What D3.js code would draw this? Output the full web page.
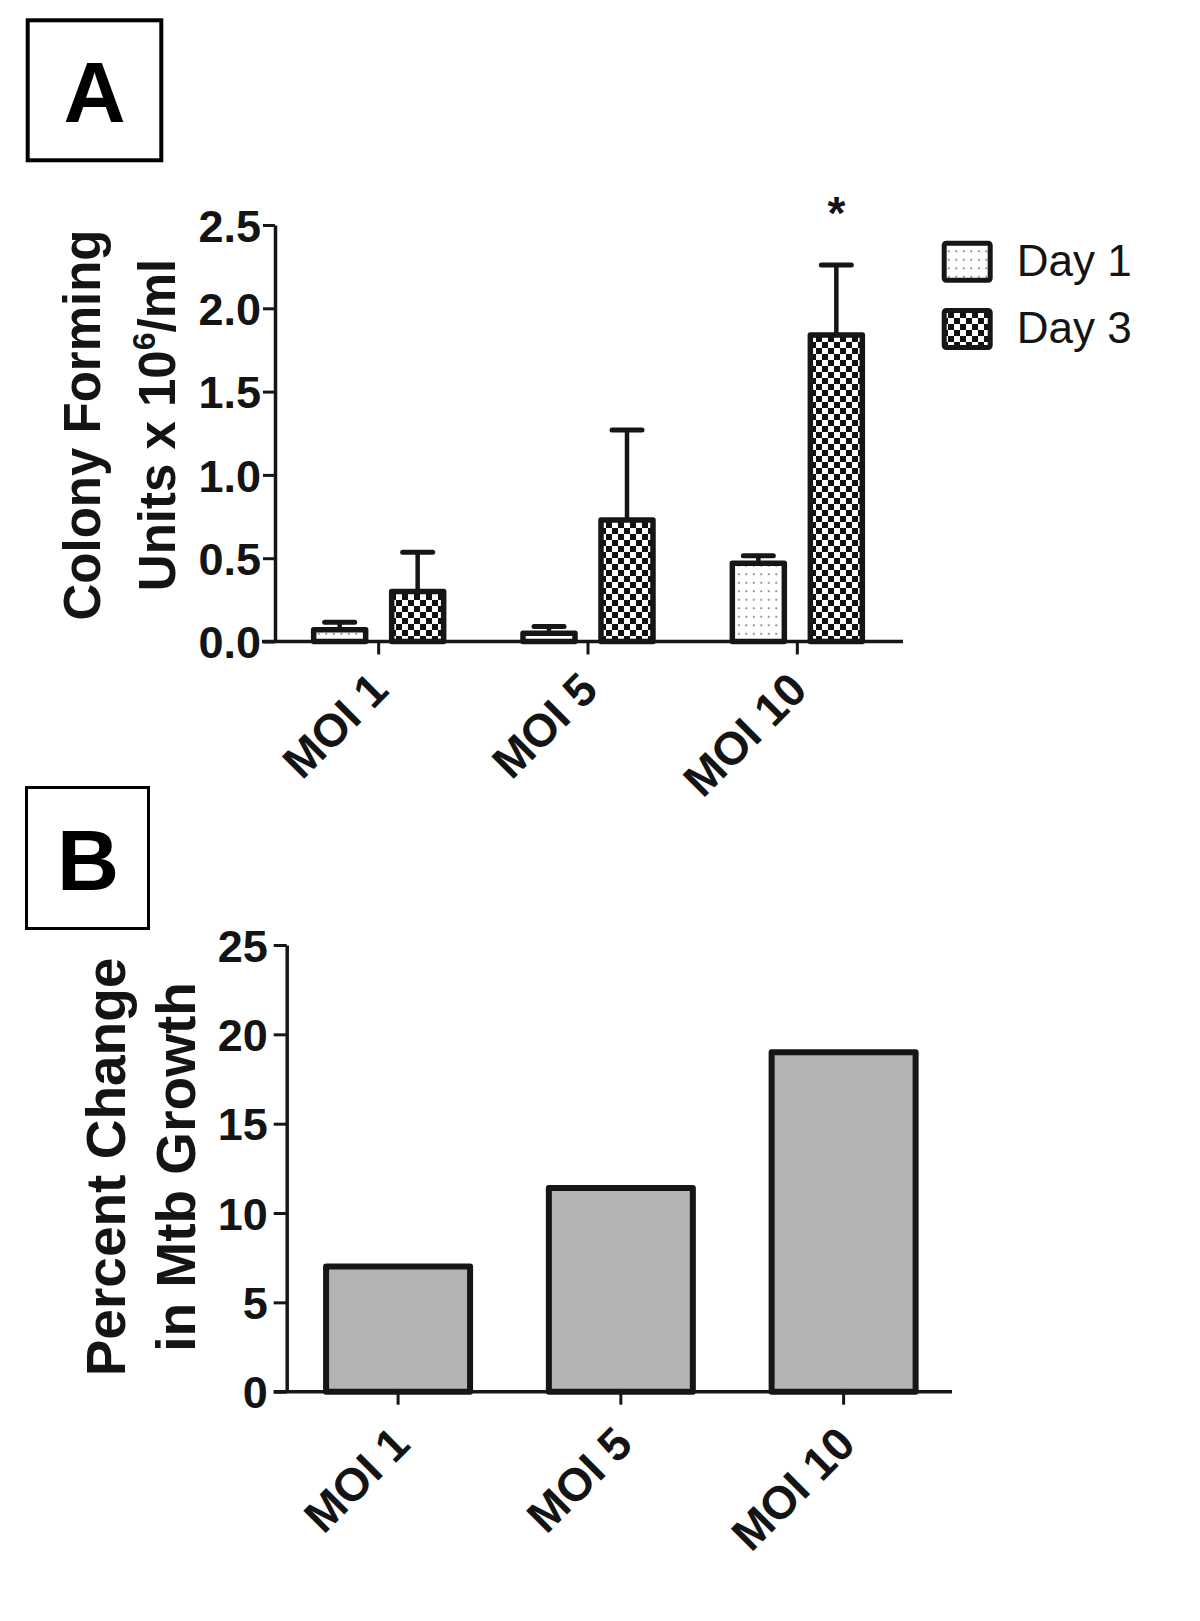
<!DOCTYPE html>
<html>
<head>
<meta charset="utf-8">
<script src="https://cdn.jsdelivr.net/npm/d3@7"></script>
<style>
  html, body { margin: 0; padding: 0; background: #fff; }
  svg { display: block; }
  text { font-family: "Liberation Sans", Arial, Helvetica, sans-serif; fill: #141414; }
</style>
</head>
<body>
<svg id="chart" width="1200" height="1621"></svg>
<script>
// ---------- data ----------
const categories = ["MOI 1", "MOI 5", "MOI 10"];
const seriesNames = ["Day 1", "Day 3"];
const day1Values = [0.07, 0.05, 0.47];
const day1Errors = [0.045, 0.04, 0.045];
const day3Values = [0.30, 0.73, 1.84];
const day3Errors = [0.235, 0.54, 0.42];
const yTicksA = [0, 0.5, 1.0, 1.5, 2.0, 2.5];
const percentChange = [7.0, 11.4, 19.0];
const yTicksB = [0, 5, 10, 15, 20, 25];
const significance = ["", "", "*"]; // above Day 3 bars

const svg = d3.select("#chart");
svg.append("rect").attr("width", 1200).attr("height", 1621).attr("fill", "#fff");

// ---------- patterns ----------
const defs = svg.append("defs");
const dots = defs.append("pattern").attr("id", "dots")
  .attr("patternUnits", "userSpaceOnUse").attr("width", 7.5).attr("height", 8.5);
dots.append("rect").attr("width", 7.5).attr("height", 8.5).attr("fill", "#fff");
dots.append("rect").attr("x", 3).attr("y", 4).attr("width", 1.6).attr("height", 1.6).attr("fill", "#666");

const checker = defs.append("pattern").attr("id", "checker")
  .attr("patternUnits", "userSpaceOnUse").attr("width", 12).attr("height", 12);
checker.append("rect").attr("width", 12).attr("height", 12).attr("fill", "#fff");
checker.append("rect").attr("x", 0).attr("y", 0).attr("width", 6).attr("height", 6).attr("fill", "#111");
checker.append("rect").attr("x", 6).attr("y", 6).attr("width", 6).attr("height", 6).attr("fill", "#111");

const fills = {"Day 1": "url(#dots)", "Day 3": "url(#checker)"};
const ink = "#161616";

// ---------- panel labels ----------
function panelLabel(x, y, w, h, sw, letter, tx, ty) {
  svg.append("rect").attr("x", x).attr("y", y).attr("width", w).attr("height", h)
    .attr("fill", "none").attr("stroke", "#000").attr("stroke-width", sw);
  svg.append("text").attr("x", tx).attr("y", ty).attr("text-anchor", "middle")
    .attr("font-size", 86).attr("font-weight", "bold").style("fill", "#000").text(letter);
}
panelLabel(27.7, 20.3, 133.6, 140, 4, "A", 94.5, 121.7);
panelLabel(26.5, 787.5, 122, 141, 3, "B", 88, 890);

// ================= PANEL A =================
const yA = d3.scaleLinear().domain([0, 2.5]).range([641.5, 225]);
const xA = d3.scaleBand().domain(categories).range([274, 902]);
const xSub = d3.scaleBand().domain(seriesNames).range([-78, 78]);
const barWA = 52;

const gA = svg.append("g");

const dataA = [];
categories.forEach((c, i) => {
  dataA.push({cat: c, s: "Day 1", v: day1Values[i], e: day1Errors[i], sig: ""});
  dataA.push({cat: c, s: "Day 3", v: day3Values[i], e: day3Errors[i], sig: significance[i]});
});
const cx = d => xA(d.cat) + xA.bandwidth() / 2 + xSub(d.s) + xSub.bandwidth() / 2;

// error bars (upper only) drawn under bars
gA.selectAll("line.stem").data(dataA).join("line")
  .attr("x1", cx).attr("x2", cx)
  .attr("y1", d => yA(d.v)).attr("y2", d => yA(d.v + d.e))
  .attr("stroke", ink).attr("stroke-width", 4.5);
gA.selectAll("line.cap").data(dataA).join("line")
  .attr("x1", d => cx(d) - 15).attr("x2", d => cx(d) + 15)
  .attr("y1", d => yA(d.v + d.e)).attr("y2", d => yA(d.v + d.e))
  .attr("stroke", ink).attr("stroke-width", 5).attr("stroke-linecap", "round");

gA.selectAll("rect.bar").data(dataA).join("rect")
  .attr("x", d => cx(d) - barWA / 2)
  .attr("y", d => yA(d.v))
  .attr("width", barWA)
  .attr("height", d => yA(0) - yA(d.v))
  .attr("fill", d => fills[d.s])
  .attr("stroke", ink).attr("stroke-width", 5.5).attr("stroke-linejoin", "round");

gA.selectAll("text.sig").data(dataA.filter(d => d.sig)).join("text")
  .attr("x", cx).attr("y", d => yA(d.v + d.e) - 36)
  .attr("text-anchor", "middle").attr("font-size", 46).attr("font-weight", "bold")
  .text(d => d.sig);

// axes A
const yAxisA = d3.axisLeft(yA).tickValues(yTicksA).tickFormat(d3.format(".1f"))
  .tickSize(12).tickSizeOuter(0).tickPadding(2);
const gyA = svg.append("g").attr("transform", `translate(${xA.range()[0] + 1},0)`).call(yAxisA);
gyA.select(".domain").attr("stroke", ink).attr("stroke-width", 3.5);
gyA.selectAll(".tick line").attr("stroke", ink).attr("stroke-width", 3);
gyA.selectAll(".tick text").attr("font-size", 45).attr("font-weight", "bold")
  .attr("font-family", "Liberation Sans, Arial, sans-serif").attr("dy", "0.36em").style("fill", "#141414");

const xAxisA = d3.axisBottom(xA).tickSize(13).tickSizeOuter(0);
const gxA = svg.append("g").attr("transform", `translate(0,${yA(0)})`).call(xAxisA);
gxA.select(".domain").attr("d", `M${xA.range()[0] - 12},0H${xA.range()[1] + 1}`)
  .attr("stroke", ink).attr("stroke-width", 3.5);
gxA.selectAll(".tick line").attr("stroke", ink).attr("stroke-width", 3);
gxA.selectAll(".tick text")
  .attr("x", 0).attr("y", 0).attr("dy", 0)
  .attr("transform", "translate(12,51) rotate(-45)")
  .attr("text-anchor", "end")
  .attr("font-size", 46).attr("font-weight", "bold")
  .attr("font-family", "Liberation Sans, Arial, sans-serif").style("fill", "#141414");

// y title A
const titleA = svg.append("g").attr("transform", "translate(0,425)");
titleA.append("text").attr("transform", "translate(100,0) rotate(-90)")
  .attr("text-anchor", "middle").attr("font-size", 51).attr("font-weight", "bold")
  .text("Colony Forming");
const tA2 = titleA.append("text").attr("transform", "translate(175,0) rotate(-90)")
  .attr("text-anchor", "middle").attr("font-size", 51).attr("font-weight", "bold");
tA2.append("tspan").text("Units x 10");
tA2.append("tspan").attr("dy", -20).attr("font-size", 32).text("6");
tA2.append("tspan").attr("dy", 20).text("/ml");

// legend
const legend = svg.append("g");
const legY = [243.2, 310.5];
seriesNames.forEach((s, i) => {
  legend.append("rect").attr("x", 944.2).attr("y", legY[i]).attr("width", 46).attr("height", 37)
    .attr("rx", 2).attr("fill", fills[s]).attr("stroke", ink).attr("stroke-width", 5);
  legend.append("text").attr("x", 1016.7).attr("y", legY[i] + 32.5)
    .attr("font-size", 44).text(s);
});

// ================= PANEL B =================
const yB = d3.scaleLinear().domain([0, 25]).range([1391.7, 945]);
const xB = d3.scaleBand().domain(categories).range([286.7, 955]);
const barWB = 144;

const gB = svg.append("g");
gB.selectAll("rect.barB").data(categories).join("rect")
  .attr("x", (c) => xB(c) + xB.bandwidth() / 2 - barWB / 2)
  .attr("y", (c, i) => yB(percentChange[i]))
  .attr("width", barWB)
  .attr("height", (c, i) => yB(0) - yB(percentChange[i]))
  .attr("fill", "#b3b3b3").attr("stroke", ink).attr("stroke-width", 6).attr("stroke-linejoin", "round");

const yAxisB = d3.axisLeft(yB).tickValues(yTicksB).tickFormat(d3.format("d"))
  .tickSize(13).tickSizeOuter(0).tickPadding(6);
const gyB = svg.append("g").attr("transform", `translate(${xB.range()[0]},0)`).call(yAxisB);
gyB.select(".domain").attr("stroke", ink).attr("stroke-width", 3.5);
gyB.selectAll(".tick line").attr("stroke", ink).attr("stroke-width", 3);
gyB.selectAll(".tick text").attr("font-size", 45).attr("font-weight", "bold")
  .attr("font-family", "Liberation Sans, Arial, sans-serif").attr("dy", "0.36em").style("fill", "#141414");

const xAxisB = d3.axisBottom(xB).tickSize(13).tickSizeOuter(0);
const gxB = svg.append("g").attr("transform", `translate(0,${yB(0)})`).call(xAxisB);
gxB.select(".domain").attr("d", `M${xB.range()[0] - 13},0H${xB.range()[1] - 3}`)
  .attr("stroke", ink).attr("stroke-width", 3.5);
gxB.selectAll(".tick line").attr("stroke", ink).attr("stroke-width", 3);
gxB.selectAll(".tick text")
  .attr("x", 0).attr("y", 0).attr("dy", 0)
  .attr("transform", "translate(14,55) rotate(-45)")
  .attr("text-anchor", "end")
  .attr("font-size", 46).attr("font-weight", "bold")
  .attr("font-family", "Liberation Sans, Arial, sans-serif").style("fill", "#141414");

// y title B
const titleB = svg.append("g").attr("transform", "translate(0,1167)");
titleB.append("text").attr("transform", "translate(125,0) rotate(-90)")
  .attr("text-anchor", "middle").attr("font-size", 55).attr("font-weight", "bold")
  .text("Percent Change");
titleB.append("text").attr("transform", "translate(195,0) rotate(-90)")
  .attr("text-anchor", "middle").attr("font-size", 55).attr("font-weight", "bold")
  .text("in Mtb Growth");
</script>
</body>
</html>
